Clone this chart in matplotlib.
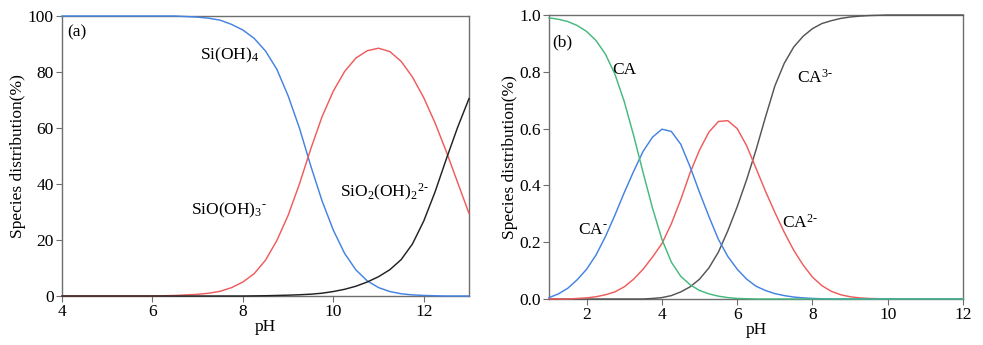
import matplotlib
matplotlib.use('Agg')
import matplotlib.pyplot as plt

plt.rcParams['font.family'] = ['Liberation Serif', 'DejaVu Serif']
plt.rcParams['mathtext.fontset'] = 'custom'
plt.rcParams['mathtext.rm'] = 'Liberation Serif'
plt.rcParams['mathtext.it'] = 'Liberation Serif:italic'

#Panel (a): silicic acid species, values in %
ph_a = [4.0, 5.0, 6.0, 6.5, 7.0, 7.25, 7.5, 7.75, 8.0, 8.25, 8.5, 8.75, 9.0, 9.25,
        9.5, 9.75, 10.0, 10.25, 10.5, 10.75, 11.0, 11.25, 11.5, 11.75, 12.0, 12.25,
        12.5, 12.75, 13.0]
si_oh4 = [100, 100, 100, 100, 99.6, 99.2, 98.5, 97.0, 95.0, 92.0, 87.5, 81.0, 71.5, 60.0,
          46.5, 34.0, 23.5, 15.2, 9.3, 5.4, 3.0, 1.6, 0.8, 0.4, 0.2, 0.08,
          0.0, 0.0, 0.0]
sio_oh3 = [0, 0, 0, 0.2, 0.6, 1.0, 1.7, 3.0, 5.0, 8.0, 12.8, 19.8, 28.8, 40.0,
           52.5, 64.0, 73.2, 80.2, 85.0, 87.6, 88.5, 87.3, 83.8, 78.2, 70.8, 61.8,
           51.5, 40.5, 29.5]
sio2_oh2 = [0, 0, 0, 0, 0, 0, 0, 0, 0, 0.05, 0.1, 0.2, 0.3, 0.45,
            0.65, 1.0, 1.6, 2.4, 3.5, 5.0, 6.9, 9.4, 13.0, 18.6, 26.8, 37.2,
            49.0, 60.3, 70.5]

#Panel (b): citric acid species, fraction
ph_b = [1.0, 1.25, 1.5, 1.75, 2.0, 2.25, 2.5, 2.75, 3.0, 3.25, 3.5, 3.75, 4.0, 4.25,
        4.5, 4.75, 5.0, 5.25, 5.5, 5.75, 6.0, 6.25, 6.5, 6.75, 7.0, 7.25, 7.5, 7.75,
        8.0, 8.25, 8.5, 8.75, 9.0, 9.25, 9.5, 9.75, 10.0, 11.0, 12.0]
ca = [0.99, 0.985, 0.977, 0.963, 0.942, 0.91, 0.862, 0.792, 0.695, 0.575, 0.445, 0.32, 0.21, 0.13,
      0.08, 0.05, 0.03, 0.018, 0.01, 0.005, 0.002, 0.001, 0, 0, 0, 0, 0, 0,
      0, 0, 0, 0, 0, 0, 0, 0, 0, 0, 0]
ca1 = [0.005, 0.018, 0.038, 0.068, 0.105, 0.155, 0.22, 0.295, 0.375, 0.45, 0.52, 0.57, 0.598, 0.59,
       0.545, 0.465, 0.375, 0.29, 0.21, 0.15, 0.105, 0.07, 0.045, 0.03, 0.019, 0.012, 0.007, 0.004,
       0.002, 0.001, 0, 0, 0, 0, 0, 0, 0, 0, 0]
ca2 = [0, 0, 0, 0.002, 0.004, 0.008, 0.015, 0.025, 0.043, 0.07, 0.105, 0.148, 0.195, 0.265,
       0.35, 0.445, 0.525, 0.588, 0.625, 0.628, 0.6, 0.54, 0.46, 0.38, 0.305, 0.235, 0.172, 0.12,
       0.077, 0.047, 0.027, 0.015, 0.008, 0.004, 0.002, 0.001, 0, 0, 0]
ca3 = [0, 0, 0, 0, 0, 0, 0, 0, 0, 0, 0, 0.002, 0.005, 0.012,
       0.025, 0.043, 0.07, 0.11, 0.165, 0.24, 0.325, 0.42, 0.525, 0.64, 0.75, 0.83, 0.887, 0.925,
       0.952, 0.97, 0.98, 0.988, 0.993, 0.996, 0.998, 0.999, 1.0, 1.0, 1.0]

BLUE = '#4483e2'
RED = '#f05c5c'
GREEN = '#45b97e'
BLACK = '#222222'
GRAY = '#555555'

fig = plt.figure(figsize=(9.83, 3.45), dpi=100)
ax1 = fig.add_axes([0.0631, 0.142, 0.414, 0.8116])
ax2 = fig.add_axes([0.5585, 0.1333, 0.4212, 0.8232])


def style(ax):
    for s in ax.spines.values():
        s.set_color('#6e6e6e')
        s.set_linewidth(1.0)
    ax.tick_params(direction='out', length=4, width=0.8, color='#6e6e6e',
                   labelsize=12.5, top=False, right=False, pad=2)
    ax.set_xlabel('pH', fontsize=12.5, labelpad=-1)
    ax.set_ylabel('Species distribution(%)', fontsize=12.5, labelpad=1)


lw = 1.05
ax1.plot(ph_a, si_oh4, color=BLUE, lw=lw, clip_on=False, zorder=3)
ax1.plot(ph_a, sio_oh3, color=RED, lw=lw, clip_on=False, zorder=3)
ax1.plot(ph_a, sio2_oh2, color=BLACK, lw=lw, clip_on=False, zorder=3)
ax1.set_xlim(4, 13)
ax1.set_ylim(0, 100)
ax1.set_xticks([4, 6, 8, 10, 12])
ax1.set_yticks([0, 20, 40, 60, 80, 100])
style(ax1)
fs = 12.5
ax1.text(0.012, 0.97, '(a)', transform=ax1.transAxes, fontsize=fs, va='top', ha='left')
ax1.text(7.05, 86, 'Si(OH)$_4$', fontsize=fs, va='center', ha='left')
ax1.text(6.85, 30.5, r'SiO(OH)$_3$$^{\text{-}}$', fontsize=fs, va='center', ha='left')
ax1.text(10.15, 37, r'SiO$_2$(OH)$_2$$^{\text{2-}}$', fontsize=fs, va='center', ha='left')

ax2.plot(ph_b, ca3, color=GRAY, lw=lw, clip_on=False, zorder=3)
ax2.plot(ph_b, ca2, color=RED, lw=lw, clip_on=False, zorder=3)
ax2.plot(ph_b, ca1, color=BLUE, lw=lw, clip_on=False, zorder=3)
ax2.plot(ph_b, ca, color=GREEN, lw=lw, clip_on=False, zorder=3)
ax2.set_xlim(1, 12)
ax2.set_ylim(0, 1.0)
ax2.set_xticks([2, 4, 6, 8, 10, 12])
ax2.set_yticks([0.0, 0.2, 0.4, 0.6, 0.8, 1.0])
ax2.set_yticklabels(['0.0', '0.2', '0.4', '0.6', '0.8', '1.0'])
style(ax2)
ax2.text(1.08, 0.905, '(b)', fontsize=fs, va='center', ha='left')
ax2.text(2.68, 0.805, 'CA', fontsize=fs, va='center', ha='left')
ax2.text(1.78, 0.243, r'CA$^{\text{-}}$', fontsize=fs, va='center', ha='left')
ax2.text(7.2, 0.27, r'CA$^{\text{2-}}$', fontsize=fs, va='center', ha='left')
ax2.text(7.58, 0.78, r'CA$^{\text{3-}}$', fontsize=fs, va='center', ha='left')

plt.savefig('out.png', dpi=100)
